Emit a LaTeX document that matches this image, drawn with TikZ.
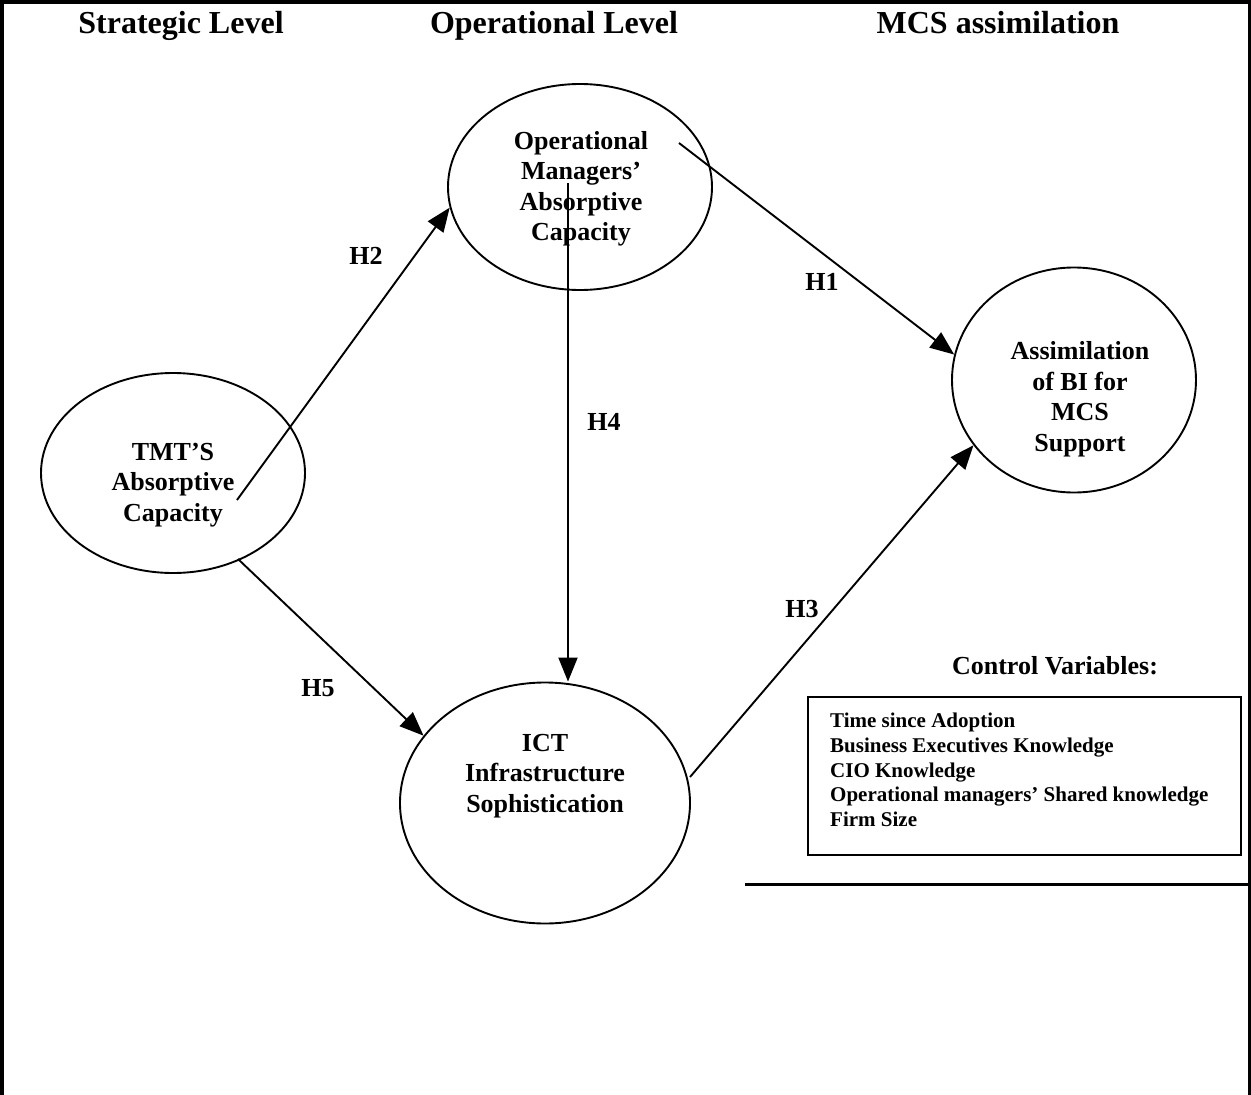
\documentclass[tikz,border=0pt]{standalone}
\usepackage{fontspec}
\setmainfont{Liberation Serif}
\usetikzlibrary{arrows.meta,shapes.geometric}
\begin{document}
\begin{tikzpicture}[x=1pt,y=-1pt,
  oval/.style={draw,ellipse,line width=1.9pt,inner sep=0pt},
  lbl/.style={font=\bfseries\fontsize{26}{30.5}\selectfont,align=center,inner sep=0pt},
  ttl/.style={font=\bfseries\fontsize{32}{36}\selectfont,inner sep=0pt,anchor=base},
  hyp/.style={font=\bfseries\fontsize{26}{30}\selectfont,inner sep=0pt},
  conn/.style={line width=1.9pt,-{Triangle[length=24pt,width=19pt]}},
  frameline/.style={line width=3.5pt}
]
\useasboundingbox (0,0) rectangle (1251,1095);
% frame
\draw[frameline] (1.75,1095) -- (1.75,1.75) -- (1249.25,1.75) -- (1249.25,1095);
\draw[line width=3pt] (745,884) -- (1249,884);
% titles
\node[ttl] (t1) at (181,33) {Strategic Level};
\node[ttl] (t2) at (554,33) {Operational Level};
\node[ttl] (t3) at (998,33) {MCS assimilation};
% ellipses
\node[oval,minimum width=264pt,minimum height=200pt] (tmt) at (173,473) {};
\node[oval,minimum width=264pt,minimum height=206pt] (op) at (580,187) {};
\node[oval,minimum width=290pt,minimum height=241pt] (ict) at (545,803) {};
\node[oval,minimum width=244pt,minimum height=225pt] (as) at (1074,380) {};
% ellipse texts
\node[lbl] (tmtt) at (173,485) {TMT’S\\Absorptive\\Capacity};
\node[lbl] (opt) at (581,189) {Operational\\Managers’\\Absorptive\\Capacity};
\node[lbl] (ictt) at (545,776) {ICT\\Infrastructure\\Sophistication};
\node[lbl] (ast) at (1080,399) {Assimilation\\of BI for\\MCS\\Support};
% arrow starts
\coordinate (s2) at (237,500);
\coordinate (s5) at (238,559);
\coordinate (s1) at (679,143);
\coordinate (s4) at (568,183);
\coordinate (s3) at (690,777);
% connectors
\draw[conn] (s2) -- (op.189);
\draw[conn] (s1) -- (as.168);
\draw[conn] (s4) -- (s4 |- ict.north);
\draw[conn] (s5) -- (ict.151);
\draw[conn] (s3) -- (as.213);
% hypothesis labels
\node[hyp] (h2) at (366,256) {H2};
\node[hyp] (h1) at (822,282) {H1};
\node[hyp] (h4) at (604,422) {H4};
\node[hyp] (h5) at (318,688) {H5};
\node[hyp] (h3) at (802,609) {H3};
% control variables
\node[hyp] (cvt) at (1055,666) {Control Variables:};
\node[draw,line width=1.8pt,minimum width=433pt,minimum height=158pt,inner sep=0pt] (cvb) at (1024.5,776) {};
\node[anchor=north west,align=left,inner sep=0pt,font=\bfseries\fontsize{21}{24.7}\selectfont] (cvl) at (830,713)
  {Time since Adoption\\Business Executives Knowledge\\CIO Knowledge\\Operational managers’ Shared knowledge\\Firm Size};
\end{tikzpicture}
\end{document}
